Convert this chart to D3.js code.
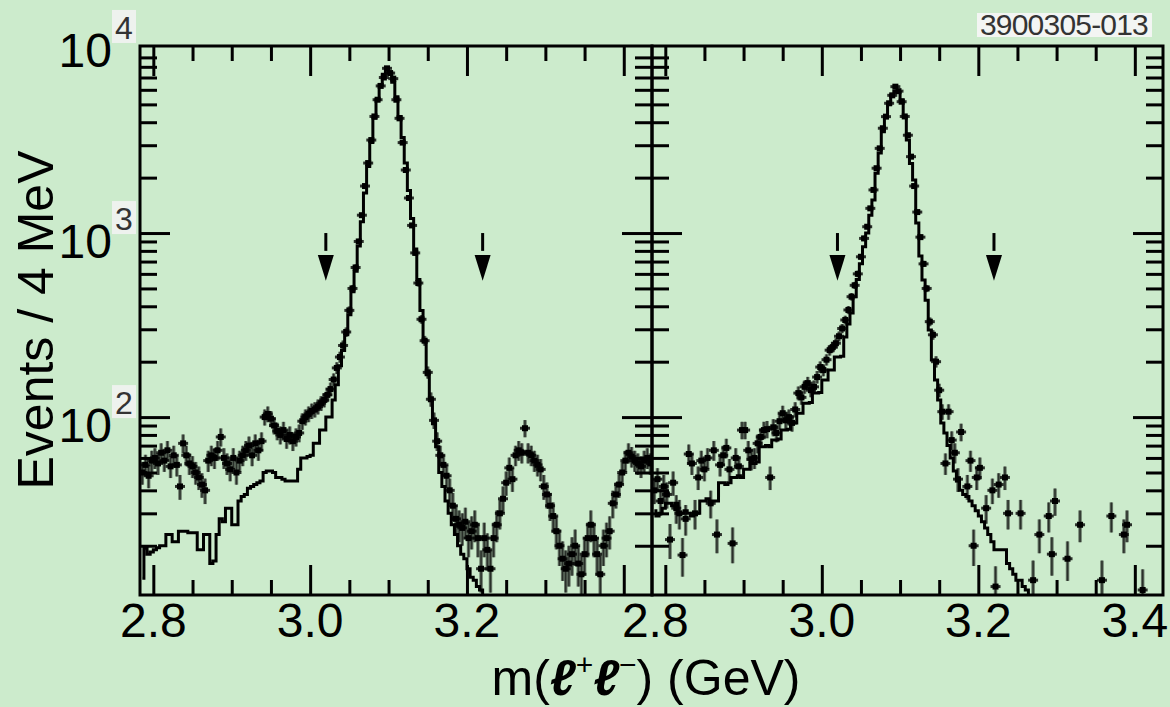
<!DOCTYPE html>
<html>
<head>
<meta charset="utf-8">
<script src="https://cdnjs.cloudflare.com/ajax/libs/d3/7.8.5/d3.min.js"></script>
<style>
body{margin:0;background:#ccebcc;}
svg{display:block;font-family:"Liberation Sans",Arial,sans-serif;}
</style>
</head>
<body>
<div id="plot"></div>
<script>
// 4 MeV bins, first bin centre at 2.786 GeV
var binStart = 2.786, binWidth = 0.004;
var massRange = [2.783, 3.436];

// left panel (e+e-) : data and MC histogram
var eeData = [50,55,48,58,60,56,64,58,66,54,62,55,42,72,62,56,54,50,47,43,
  40,58,62,60,66,78,60,56,52,60,50,58,62,66,70,62,72,66,74,100,
  104,98,90,84,80,85,76,80,74,78,82,95,100,104,108,110,114,119,124,132,
  142,160,185,212,245,290,380,500,650,900,1250,1800,2400,3200,4300,5300,6300,7000,7850,7400,
  6900,5300,4200,3100,2200,1550,1100,780,535,340,260,175,125,96,74,62,55,48,40,33,
  28,26,25,27,22,24,26,22,15,22,19,15,22,26,30,36,44,53,46,62,
  66,64,87,64,62,58,55,52,42,38,33,29,24,20,17,15,16,18,20,16,
  14,18,22,26,22,18,14,20,22,24,34,38,43,50,58,64,61,58,56,54,
  58,60,56];
var eeMC = [13.3,19.4,18,18.5,19,19.5,20,20,23,23,21,21,24,24,24,23.5,23.5,23.5,19,19,
  23,23,16,16.5,23,28,27,32,32,26,26,35,37,38,41,42,43,44,45,50,
  51,51,50,47,47,46,45,45,45,45,52,60,60,61,62,72,72,85,85,100,
  100,124,150,190,230,280,360,480,620,850,1150,1650,2300,3100,4200,5300,6400,7300,7900,7400,
  6600,5500,4300,3300,2400,1700,1200,820,560,380,260,170,125,92,69,50,42,35,30,26,
  23,20,18,17,15,13.5,13,12,11.5,10.3,8,8,8,8,8,8,8,8,8,8,
  8,8,8,8,8,8,8,8,8,8,8,8,8,8,8,8,8,8,8,8,
  8,8,8,8,8,8,8,8,8,8,8,8,8,8,8,8,8,8,8,8,
  8,8,8];

// right panel (mu+mu-) : data (0 = empty bin) and MC histogram
var mmData = [40,46,35,42,38,21.6,44,32,30,17.8,28,63,56,30,47,58,52,60,34,66,
  23,55,62,68,52,20.6,60,54,85,85,66,59,60,72,78,85,86,47,88,82,
  95,105,96,100,93,110,135,128,146,153,140,146,165,187,180,205,231,240,252,275,
  303,337,382,451,520,600,743,935,1082,1362,1715,2250,2885,3710,4290,5070,5600,6240,5900,5170,
  4300,3400,2600,1800,1300,950,680,500,330,280,200,140,107,56,107,75,64,46,83,0,
  42,58,20,47,53,0,32,0,40,12,43,0,47,30,0,0,0,30,0,0,
  0,13,0,23,0,0,29,18,35,0,0,0,17,0,0,0,26,0,0,0,
  0,0,0,13,0,0,29,0,0,0,23,26,0,0,0,0,11.5,0,0,0,
  0,0,0];
var mmMC = [31,29,30,32,34,34,33,34,30,30,31,30,29,30,30,35,35,36,35,35,
  35,44,44,43,44,47,47,48,47,52,52,56,56,57,69,69,70,69,75,75,
  76,85,85,86,93,93,105,105,119,119,120,135,135,136,159,159,180,180,212,212,
  214,272,320,368,450,560,680,843,1000,1250,1510,2110,2720,3550,4300,5000,5600,5900,5800,5300,
  4300,3200,2390,1940,1133,750,555,432,297,204,159,124,93,82,70,60,51,45,40,38,
  37,35,33,31,29,27,25,23,21,19,19,19,19,16,15,14,13,13,12,11.5,
  10,8,8,8,8,8,8,8,8,8,8,8,8,8,8,8,8,8,8,8,
  8,8,8,8,8,8,8,8,8,8,8,8,8,8,8,8,8,8,8,8,
  8,8,8];

var xMajor = [2.8, 3.0, 3.2, 3.4];
var xMinor = [2.85, 2.9, 2.95, 3.05, 3.1, 3.15, 3.25, 3.3, 3.35];
var yMajor = [100, 1000];
var yMinor = [20,30,40,50,60,70,80,90,200,300,400,500,600,700,800,900,
  2000,3000,4000,5000,6000,7000,8000,9000];
var yLabels = [{v: 10000, e: "4"}, {v: 1000, e: "3"}, {v: 100, e: "2"}];
var cutArrows = [3.02, 3.22];
var figLabel = "3900305-013";

var width = 1170, height = 707;
var frame = {t: 46, b: 595};

var svg = d3.select('#plot').append('svg')
    .attr('width', width)
    .attr('height', height);

svg.append('rect').attr('width', width).attr('height', height).attr('fill', '#ccebcc');

var y = d3.scaleLog().domain([10.8, 10380]).range([frame.b, frame.t]);

var masses = d3.range(eeData.length).map(function(i){ return binStart + i*binWidth; });

var panels = [
    {l: 140, r: 652, data: eeData, mc: eeMC, labels: [2.8, 3.0, 3.2]},
    {l: 652, r: 1163, data: mmData, mc: mmMC, labels: [2.8, 3.0, 3.2, 3.4]}
];

function styleAxis(sel){
    sel.select('.domain').remove();
    sel.selectAll('text').remove();
    sel.selectAll('line').attr('stroke', '#000').attr('stroke-width', 3);
}

panels.forEach(function(p, k){
    var x = d3.scaleLinear().domain(massRange).range([p.l, p.r]);
    var g = svg.append('g');
    var majors = xMajor.filter(function(d){ return x(d) < p.r - 5; });

    g.append('clipPath').attr('id', 'clip' + k)
        .append('rect')
        .attr('x', p.l).attr('y', frame.t)
        .attr('width', p.r - p.l).attr('height', frame.b - frame.t);

    // x ticks, bottom and top, pointing inside
    g.append('g').attr('transform', 'translate(0,' + frame.b + ')')
        .call(d3.axisBottom(x).tickValues(majors).tickSize(-30))
        .call(styleAxis);
    g.append('g').attr('transform', 'translate(0,' + frame.b + ')')
        .call(d3.axisBottom(x).tickValues(xMinor).tickSize(-15))
        .call(styleAxis);
    g.append('g').attr('transform', 'translate(0,' + frame.t + ')')
        .call(d3.axisTop(x).tickValues(majors).tickSize(-30))
        .call(styleAxis);
    g.append('g').attr('transform', 'translate(0,' + frame.t + ')')
        .call(d3.axisTop(x).tickValues(xMinor).tickSize(-15))
        .call(styleAxis);

    // y ticks on both sides of the panel
    g.append('g').attr('transform', 'translate(' + p.l + ',0)')
        .call(d3.axisLeft(y).tickValues(yMajor).tickSize(-30))
        .call(styleAxis);
    g.append('g').attr('transform', 'translate(' + p.l + ',0)')
        .call(d3.axisLeft(y).tickValues(yMinor).tickSize(-17))
        .call(styleAxis);
    g.append('g').attr('transform', 'translate(' + p.r + ',0)')
        .call(d3.axisRight(y).tickValues(yMajor).tickSize(-30))
        .call(styleAxis);
    g.append('g').attr('transform', 'translate(' + p.r + ',0)')
        .call(d3.axisRight(y).tickValues(yMinor).tickSize(-17))
        .call(styleAxis);

    // tick labels
    g.selectAll('.xlab').data(p.labels).enter().append('text')
        .attr('class', 'xlab')
        .attr('x', function(d){ return x(d); })
        .attr('dx', function(d){ return (k === 1 && d === 2.8) ? -10 : 0; })
        .attr('y', 637)
        .attr('text-anchor', 'middle')
        .attr('font-size', 48)
        .text(function(d){ return d.toFixed(1); });

    var area = g.append('g').attr('clip-path', 'url(#clip' + k + ')');

    // MC histogram
    var line = d3.line()
        .x(function(d){ return x(d.m); })
        .y(function(d){ return y(d.v); })
        .curve(d3.curveStep);
    area.append('path')
        .datum(masses.map(function(m, i){ return {m: m, v: p.mc[i]}; }))
        .attr('d', line)
        .attr('fill', 'none')
        .attr('stroke', '#000')
        .attr('stroke-width', 3)
        .attr('stroke-linejoin', 'miter');

    // data points with sqrt(N) error bars
    var pts = masses.map(function(m, i){ return {m: m, v: p.data[i]}; })
        .filter(function(d){ return d.v > 0; });
    var marks = area.selectAll('.pt').data(pts).enter().append('g').attr('class', 'pt');
    marks.append('line')
        .attr('x1', function(d){ return x(d.m); })
        .attr('x2', function(d){ return x(d.m); })
        .attr('y1', function(d){ return y(Math.max(d.v - Math.sqrt(d.v), 1)); })
        .attr('y2', function(d){ return y(d.v + Math.sqrt(d.v)); })
        .attr('stroke', '#000').attr('stroke-opacity', 0.5).attr('stroke-width', 3.5);
    marks.append('line')
        .attr('x1', function(d){ return x(d.m); })
        .attr('x2', function(d){ return x(d.m); })
        .attr('y1', function(d){ return y(Math.max(d.v - Math.sqrt(d.v), 1)); })
        .attr('y2', function(d){ return y(d.v + Math.sqrt(d.v)); })
        .attr('stroke', '#000').attr('stroke-opacity', 0.6).attr('stroke-width', 1.5);
    marks.append('line')
        .attr('x1', function(d){ return x(d.m) - 5; })
        .attr('x2', function(d){ return x(d.m) + 5; })
        .attr('y1', function(d){ return y(d.v); })
        .attr('y2', function(d){ return y(d.v); })
        .attr('stroke', '#000').attr('stroke-opacity', 0.8).attr('stroke-width', 3);
    marks.append('rect')
        .attr('x', function(d){ return x(d.m) - 3; })
        .attr('y', function(d){ return y(d.v) - 3; })
        .attr('width', 6).attr('height', 6)
        .attr('fill', '#000');

    // signal window arrows
    var arr = g.selectAll('.arrow').data(cutArrows).enter().append('g').attr('class', 'arrow');
    arr.append('line')
        .attr('x1', function(d){ return x(d); })
        .attr('x2', function(d){ return x(d); })
        .attr('y1', y(1000)).attr('y2', y(800))
        .attr('stroke', '#000').attr('stroke-width', 3);
    arr.append('path')
        .attr('d', function(d){
            var cx = x(d), top = y(760), tip = y(550);
            return 'M' + (cx - 8) + ',' + top + 'L' + (cx + 8) + ',' + top + 'L' + cx + ',' + tip + 'Z';
        })
        .attr('fill', '#000');

    // panel frame
    g.append('rect')
        .attr('x', p.l).attr('y', frame.t)
        .attr('width', p.r - p.l).attr('height', frame.b - frame.t)
        .attr('fill', 'none').attr('stroke', '#000').attr('stroke-width', 3);
});

// y tick labels 10^n
var ylab = svg.selectAll('.ylab').data(yLabels).enter().append('g').attr('class', 'ylab')
    .attr('transform', function(d){ return 'translate(0,' + (y(d.v) + (d.v === 10000 ? 18 : 25)) + ')'; });
ylab.append('text')
    .attr('x', 112).attr('y', 0)
    .attr('text-anchor', 'end')
    .attr('font-size', 48)
    .text('10');
ylab.append('rect')
    .attr('x', 112).attr('y', -57)
    .attr('width', 24).attr('height', 33)
    .attr('fill', '#eef2ee');
ylab.append('text')
    .attr('x', 124).attr('y', -28)
    .attr('text-anchor', 'middle')
    .attr('font-size', 32)
    .attr('fill', '#333')
    .text(function(d){ return d.e; });

// axis titles
svg.append('text')
    .attr('transform', 'translate(53,320) rotate(-90)')
    .attr('text-anchor', 'middle')
    .attr('font-size', 50)
    .text('Events / 4 MeV');

var xt = svg.append('text')
    .attr('x', 646).attr('y', 695)
    .attr('text-anchor', 'middle')
    .attr('font-size', 50);
xt.append('tspan').text('m(');
xt.append('tspan').attr('font-style', 'italic').attr('font-weight', 'bold').text('\u2113');
xt.append('tspan').attr('font-size', 30).attr('dy', -20).text('+');
xt.append('tspan').attr('font-style', 'italic').attr('font-weight', 'bold').attr('dy', 20).text('\u2113');
xt.append('tspan').attr('font-size', 30).attr('dy', -20).text('\u2212');
xt.append('tspan').attr('dy', 20).text(') (GeV)');

// figure number
svg.append('rect')
    .attr('x', 977).attr('y', 13)
    .attr('width', 175).attr('height', 24)
    .attr('fill', '#f3f5f3');
svg.append('text')
    .attr('x', 1064).attr('y', 35)
    .attr('text-anchor', 'middle')
    .attr('font-size', 30)
    .attr('letter-spacing', -0.8)
    .attr('fill', '#333')
    .text(figLabel);
</script>
</body>
</html>
